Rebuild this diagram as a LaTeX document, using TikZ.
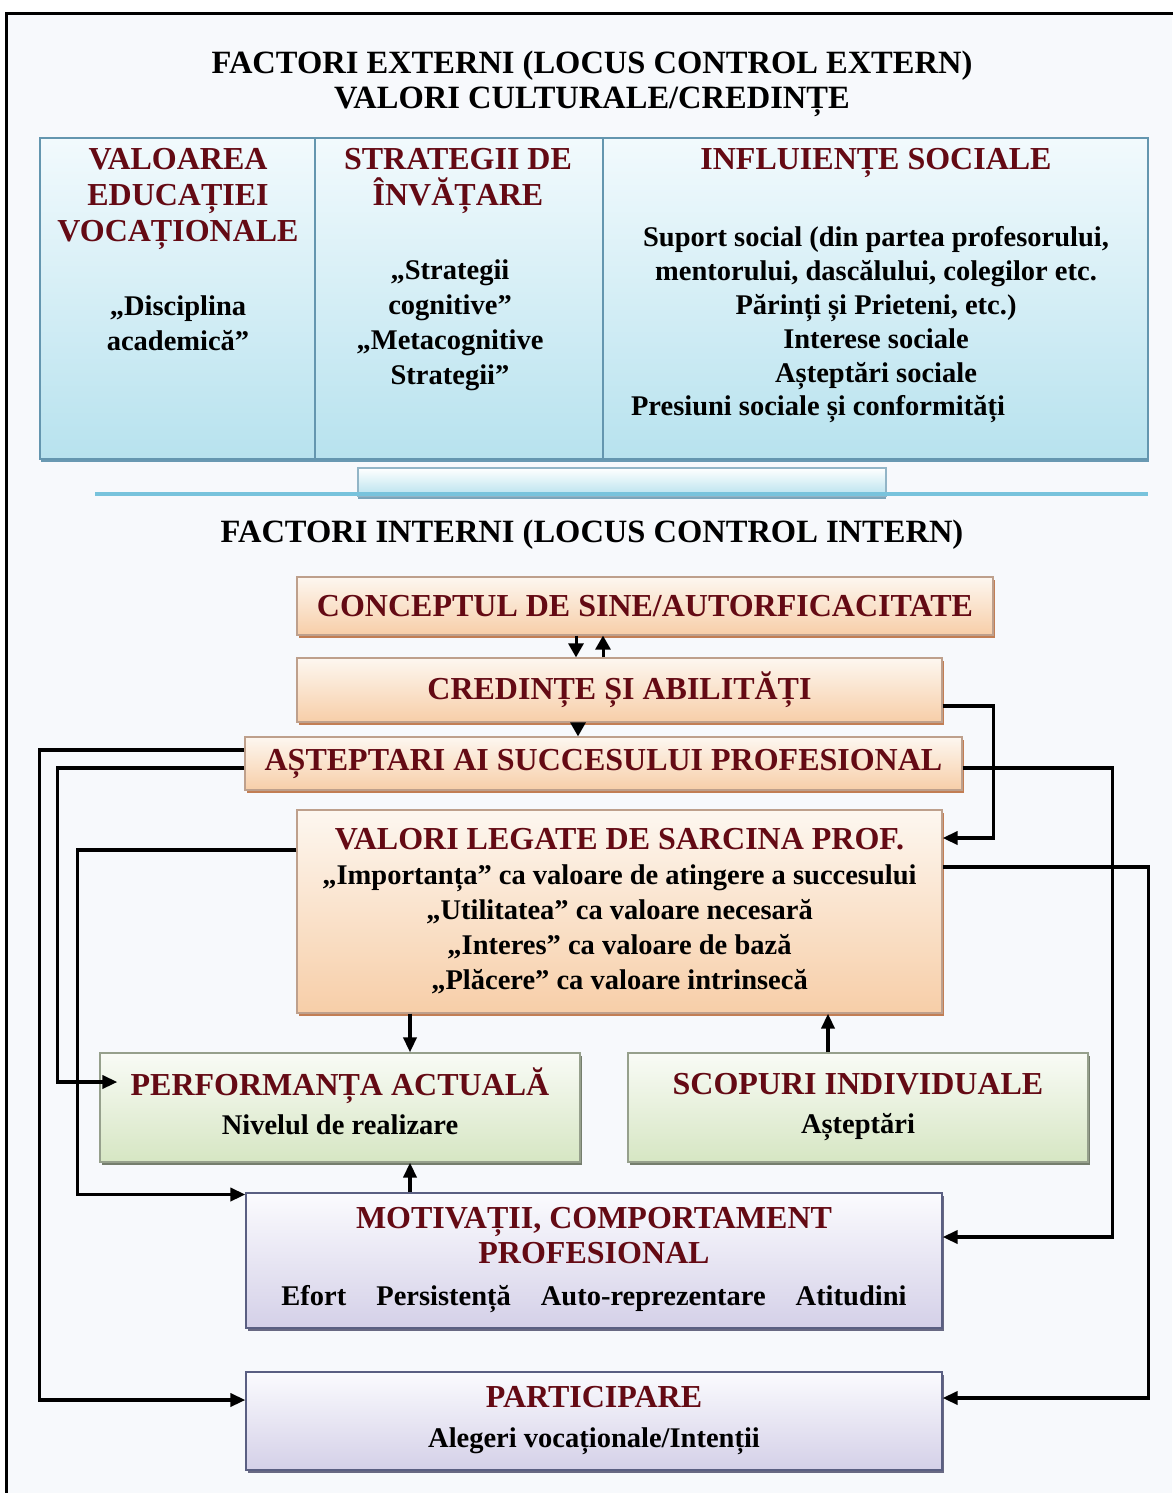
\documentclass[tikz,border=0pt]{standalone}
\usepackage{fontspec}
\setmainfont{Liberation Serif}
\usetikzlibrary{arrows.meta,shadows}
\definecolor{dred}{RGB}{100,10,20}
\definecolor{bgc}{RGB}{247,249,252}
\definecolor{btop}{RGB}{242,250,253}
\definecolor{bbot}{RGB}{183,226,238}
\definecolor{bborder}{RGB}{100,150,175}
\definecolor{bshad}{RGB}{70,130,160}
\definecolor{otop}{RGB}{253,247,240}
\definecolor{obot}{RGB}{247,206,168}
\definecolor{oborder}{RGB}{190,160,140}
\definecolor{oshad}{RGB}{185,105,55}
\definecolor{gtop}{RGB}{249,251,246}
\definecolor{gbot}{RGB}{214,230,195}
\definecolor{gborder}{RGB}{150,160,140}
\definecolor{gshad}{RGB}{95,105,85}
\definecolor{ptop}{RGB}{251,251,254}
\definecolor{pbot}{RGB}{212,208,232}
\definecolor{pborder}{RGB}{90,95,130}
\definecolor{pshad}{RGB}{80,80,110}
\definecolor{lblue}{RGB}{120,195,220}
\newcommand\hdf{\bfseries\fontsize{32}{36}\selectfont\color{dred}}
\newcommand\bdf{\bfseries\fontsize{28.5}{35}\selectfont\color{black}}
\newcommand\ttlf{\bfseries\fontsize{32.5}{35}\selectfont\color{black}}
\tikzset{
  box/.style={rectangle, inner sep=0pt, line width=1.2pt, align=center},
  obox/.style={box, draw=oborder, top color=otop, bottom color=obot,
    drop shadow={shadow xshift=1.5pt, shadow yshift=-3pt, fill=oshad, opacity=0.85}},
  gbox/.style={box, draw=gborder, top color=gtop, bottom color=gbot,
    drop shadow={shadow xshift=1.5pt, shadow yshift=-3pt, fill=gshad, opacity=0.85}},
  pbox/.style={box, draw=pborder, top color=ptop, bottom color=pbot,
    drop shadow={shadow xshift=1.5pt, shadow yshift=-3pt, fill=pshad, opacity=0.85}},
  bbox/.style={box, draw=bborder, top color=btop, bottom color=bbot,
    drop shadow={shadow xshift=1pt, shadow yshift=-3pt, fill=bshad, opacity=0.8}},
  arr/.style={line width=3.5pt, -{Triangle[length=15pt,width=13pt]}},
  sarr/.style={line width=3pt, -{Triangle[length=14pt,width=15pt]}},
  txt/.style={align=center, inner sep=0pt},
  hd/.style={font=\hdf},
  bd/.style={font=\bdf},
}
\begin{document}
\begin{tikzpicture}[x=1pt,y=-1pt]
\useasboundingbox (0,0) rectangle (1172,1493);
\fill[bgc] (6,14) rectangle (1172,1493);
\draw[line width=3pt] (6,1500) -- (6,14) -- (1175,14);

% titles
\node[txt, font=\ttlf] (ttl1) at (592,84) {FACTORI EXTERNI (LOCUS CONTROL EXTERN)\\VALORI CULTURALE/CREDINȚE};

% external factors box
\node[bbox, minimum width=275pt, minimum height=321pt] (c1) at (177.5,298.5) {};
\node[bbox, minimum width=288pt, minimum height=321pt] (c2) at (459,298.5) {};
\node[bbox, minimum width=545pt, minimum height=321pt] (c3) at (875.5,298.5) {};

\node[txt, hd] (h1) at (178,199) {VALOAREA\\EDUCAȚIEI\\VOCAȚIONALE};
\node[txt, bd] (b1) at (178,323) {„Disciplina\\academică”};
\node[txt, hd] (h2) at (458,181) {STRATEGII DE\\ÎNVĂȚARE};
\node[txt, bd] (b2) at (450,325) {„Strategii\\cognitive”\\„Metacognitive\\Strategii”};
\node[txt, hd] (h3) at (876,163) {INFLUIENȚE SOCIALE};
\node[txt, font=\bfseries\fontsize{28.5}{34}\selectfont] (b3) at (876,308) {Suport social (din partea profesorului,\\mentorului, dascălului, colegilor etc.\\Părinți și Prieteni, etc.)\\Interese sociale\\Așteptări sociale};
\node[txt, bd] (b3b) at (818,409) {Presiuni sociale și conformități};

% pedestal
\node[box, draw=bborder!70, top color=white, bottom color=bbot, minimum width=528pt, minimum height=28pt,
  drop shadow={shadow xshift=0pt, shadow yshift=-2.5pt, fill=bshad, opacity=0.7}] (ped) at (622,482) {};
\draw[line width=3.5pt, lblue] (95,494) -- (1148,494);

\node[txt, font=\ttlf] (ttl2) at (592,535) {FACTORI INTERNI (LOCUS CONTROL INTERN)};

% internal factor boxes
\node[obox, hd, minimum width=696pt, minimum height=58pt] (conc) at (645,606) {CONCEPTUL DE SINE/AUTORFICACITATE};
\node[obox, hd, minimum width=645pt, minimum height=64pt] (cred) at (619.5,690) {CREDINȚE ȘI ABILITĂȚI};
\node[obox, hd, minimum width=717pt, minimum height=53pt] (aste) at (603.5,763.5) {AȘTEPTARI AI SUCCESULUI PROFESIONAL};
\node[obox, bd, minimum width=645pt, minimum height=203pt] (val) at (619.5,911.5)
  {{\hdf VALORI LEGATE DE SARCINA PROF.}\\„Importanța” ca valoare de atingere a succesului\\„Utilitatea” ca valoare necesară\\„Interes” ca valoare de bază\\„Plăcere” ca valoare intrinsecă};
\node[gbox, minimum width=480pt, minimum height=109pt] (perf) at (340,1107.5) {};
\node[txt, bd] (perftxt) at ([yshift=6pt]perf.center)
  {{\hdf PERFORMANȚA ACTUALĂ}\\[4pt]Nivelul de realizare};
\node[gbox, bd, minimum width=460pt, minimum height=109pt] (scop) at (858,1107.5)
  {{\hdf SCOPURI INDIVIDUALE}\\[4pt]Așteptări};
\node[pbox, bd, minimum width=696pt, minimum height=135pt] (mot) at (594,1260.5)
  {{\hdf MOTIVAȚII, COMPORTAMENT}\\{\hdf PROFESIONAL}\\[7pt]Efort\hspace{30pt}Persistență\hspace{30pt}Auto-reprezentare\hspace{30pt}Atitudini};
\node[pbox, bd, minimum width=696pt, minimum height=98pt] (part) at (594,1421)
  {{\hdf PARTICIPARE}\\[5pt]Alegeri vocaționale/Intenții};

% vertical arrows
\draw[sarr] ([xshift=-69pt]conc.south) -- ([xshift=-69pt]conc.south |- cred.north);
\draw[sarr] ([xshift=-16.5pt]cred.north) -- ([xshift=-16.5pt]cred.north |- conc.south);
\draw[sarr] ([xshift=-41.5pt]cred.south) -- ([xshift=-41.5pt]cred.south |- aste.north);
\draw[arr] ([xshift=-209.5pt]val.south) -- ([xshift=-209.5pt]val.south |- perf.north);
\draw[arr] ([xshift=-30pt]scop.north) -- ([xshift=-30pt]scop.north |- val.south);
\draw[arr] ([xshift=-184pt]mot.north) -- ([xshift=-184pt]mot.north |- perf.south);

% right side loops
\draw[arr] ([yshift=-16pt]cred.east) -- ++(51,0) |- ([yshift=73.5pt]val.east);
\draw[arr] ([yshift=-4.5pt]aste.east) -- ++(150,0) |- ([yshift=23.5pt]mot.east);
\draw[arr] ([yshift=44.5pt]val.east) -- ++(206,0) |- ([yshift=23pt]part.east);

% left side loops
\draw[arr] ([yshift=13.5pt]aste.west) -- ++(-205,0) |- ([yshift=21pt]part.west);
\draw[arr] ([yshift=-4.5pt]aste.west) -- ++(-187,0) |- ([xshift=18pt,yshift=25.5pt]perf.west);
\draw[arr] ([yshift=61.5pt]val.west) -- ++(-219,0) |- ([yshift=66pt]mot.west);
\end{tikzpicture}
\end{document}
